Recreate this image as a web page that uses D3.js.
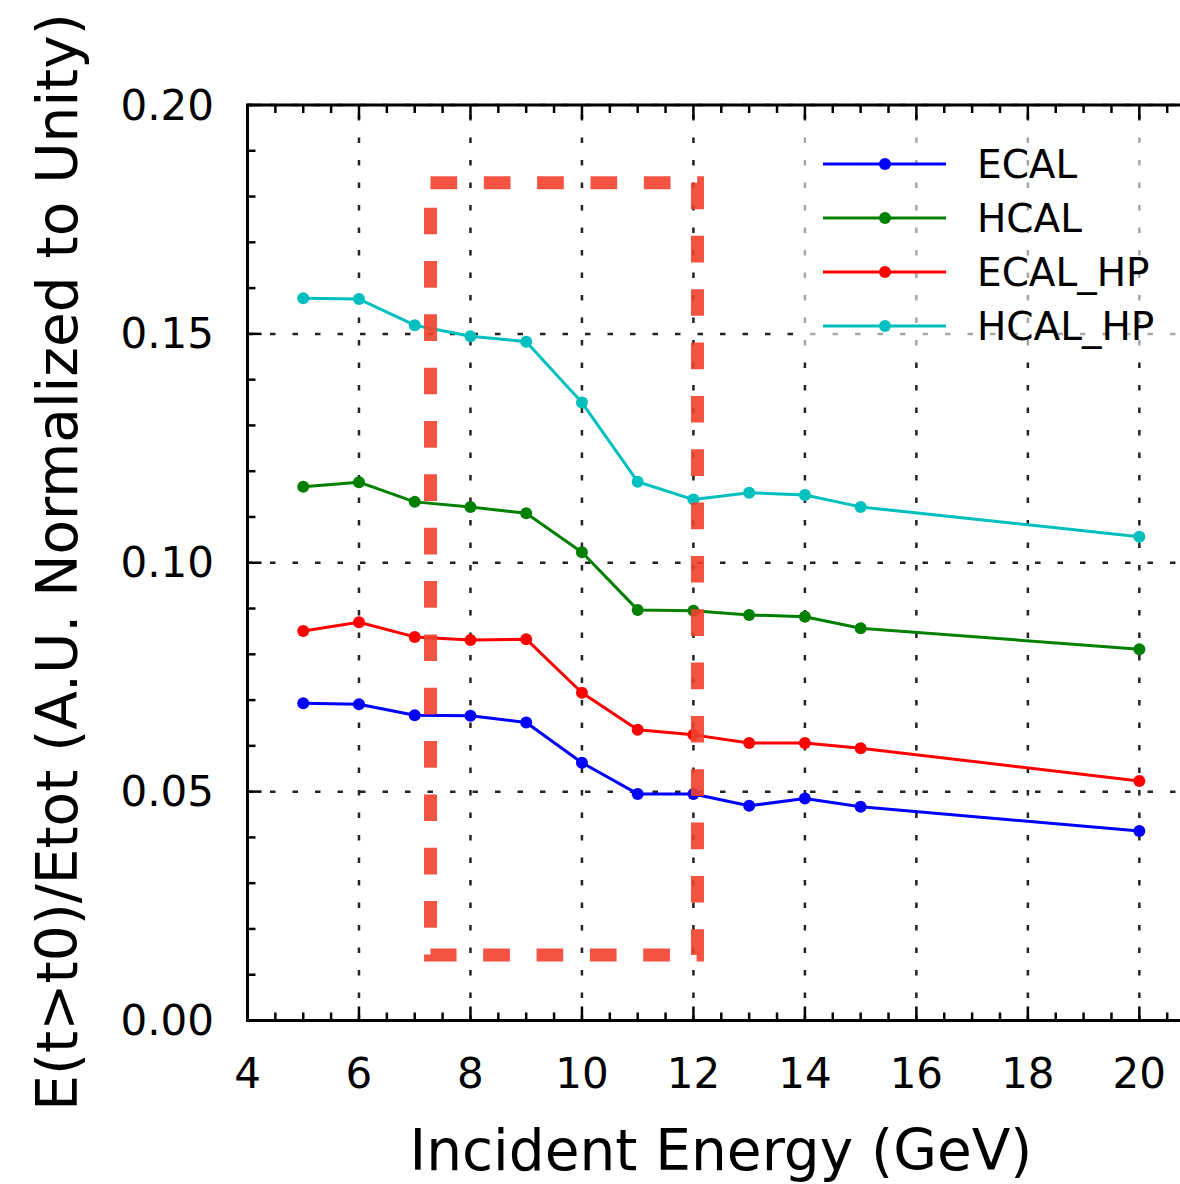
<!DOCTYPE html>
<html>
<head>
<meta charset="utf-8">
<script src="https://cdn.jsdelivr.net/npm/d3@7"></script>
<style>
  body { margin: 0; background: #fff; }
  svg { display: block; font-family: "DejaVu Sans", sans-serif; }
</style>
</head>
<body>
<script>
// data
const energies = [5, 6, 7, 8, 9, 10, 11, 12, 13, 14, 15, 20];
const ecal    = [0.0693, 0.0691, 0.0667, 0.0666, 0.0651, 0.0563, 0.0495, 0.0495, 0.0469, 0.0485, 0.0467, 0.0414];
const hcal    = [0.1166, 0.1176, 0.1133, 0.1122, 0.1108, 0.1023, 0.0897, 0.0895, 0.0886, 0.0882, 0.0857, 0.0811];
const ecalHP  = [0.0851, 0.0870, 0.0838, 0.0831, 0.0833, 0.0716, 0.0635, 0.0624, 0.0606, 0.0606, 0.0595, 0.0523];
const hcalHP  = [0.1578, 0.1576, 0.1519, 0.1495, 0.1483, 0.1350, 0.1177, 0.1138, 0.1153, 0.1148, 0.1122, 0.1057];
const seriesNames = ['ECAL', 'HCAL', 'ECAL_HP', 'HCAL_HP'];
const xTicks = [4, 6, 8, 10, 12, 14, 16, 18, 20];
const yTicks = [0.00, 0.05, 0.10, 0.15, 0.20];
// highlighted box (energy, fraction)
const boxX = [7.283, 12.073];
const boxY = [0.0143, 0.1830];

const series = [
  {name: seriesNames[0], values: ecal,   color: '#0000ff'},
  {name: seriesNames[1], values: hcal,   color: '#008000'},
  {name: seriesNames[2], values: ecalHP, color: '#ff0000'},
  {name: seriesNames[3], values: hcalHP, color: '#00bfbf'}
];

const width = 1180, height = 1184;
const x = d3.scaleLinear().domain([4, 21]).range([247.5, 247.5 + 17 * 55.74]);
const y = d3.scaleLinear().domain([0, 0.2]).range([1020.5, 105]);

const svg = d3.select('body').append('svg')
  .attr('width', width)
  .attr('height', height);

// grid
const grid = svg.append('g').attr('class', 'grid');
grid.selectAll('line.gx')
  .data(xTicks.slice(1))
  .enter().append('line')
  .attr('x1', d => x(d)).attr('x2', d => x(d))
  .attr('y1', y(0)).attr('y2', y(0.2))
  .attr('stroke', '#222').attr('stroke-width', 2.5)
  .attr('stroke-dasharray', '5.5,17');
grid.selectAll('line.gy')
  .data(yTicks.slice(1))
  .enter().append('line')
  .attr('x1', x(4)).attr('x2', width + 20)
  .attr('y1', d => y(d)).attr('y2', d => y(d))
  .attr('stroke', '#222').attr('stroke-width', 2.5)
  .attr('stroke-dasharray', '5.5,17');

// lines and markers
let line = d3.line()
  .x((d, i) => x(energies[i]))
  .y(d => y(d));

series.forEach(s => {
  svg.append('path')
    .datum(s.values)
    .attr('fill', 'none')
    .attr('stroke', s.color)
    .attr('stroke-width', 3)
    .attr('stroke-linejoin', 'round')
    .attr('d', line);
  svg.append('g').selectAll('circle')
    .data(s.values)
    .enter().append('circle')
    .attr('cx', (d, i) => x(energies[i]))
    .attr('cy', d => y(d))
    .attr('r', 6)
    .attr('fill', s.color);
});

// dashed box, drawn clockwise from top-left
const boxPath = d3.path();
boxPath.moveTo(x(boxX[0]), y(boxY[1]));
boxPath.lineTo(x(boxX[1]), y(boxY[1]));
boxPath.lineTo(x(boxX[1]), y(boxY[0]));
boxPath.lineTo(x(boxX[0]), y(boxY[0]));
boxPath.closePath();
svg.append('path')
  .attr('d', boxPath.toString())
  .attr('fill', 'none')
  .attr('stroke', '#f2402c')
  .attr('stroke-opacity', 0.9)
  .attr('stroke-width', 13)
  .attr('stroke-dasharray', '26.67,26.67');

// legend
const legend = svg.append('g');
legend.append('rect')
  .attr('x', 797).attr('y', 132)
  .attr('width', 420).attr('height', 222)
  .attr('fill', '#fff').attr('fill-opacity', 0.6);
series.forEach((s, i) => {
  const ly = 164 + i * 54;
  legend.append('line')
    .attr('x1', 823).attr('x2', 946)
    .attr('y1', ly).attr('y2', ly)
    .attr('stroke', s.color).attr('stroke-width', 3);
  legend.append('circle')
    .attr('cx', 885).attr('cy', ly).attr('r', 6)
    .attr('fill', s.color);
  legend.append('text')
    .attr('x', 977).attr('y', ly)
    .attr('dominant-baseline', 'central')
    .attr('font-size', 39)
    .text(s.name);
});

// axes: ticks inward, labels drawn separately
const xMinor = d3.range(4, 21.01, 0.5);
const yMinor = d3.range(0, 0.2001, 0.01);
const axes = svg.append('g').attr('stroke', '#000');
function isMajorX(d) { return Math.abs(d / 2 - Math.round(d / 2)) < 1e-6; }
function isMajorY(d) { return Math.abs(d / 0.05 - Math.round(d / 0.05)) < 1e-6; }

axes.selectAll('line.xb')
  .data(xMinor).enter().append('line')
  .attr('x1', d => x(d)).attr('x2', d => x(d))
  .attr('y1', y(0)).attr('y2', d => y(0) - (isMajorX(d) ? 14 : 8))
  .attr('stroke-width', 2.5);
axes.selectAll('line.xt')
  .data(xMinor).enter().append('line')
  .attr('x1', d => x(d)).attr('x2', d => x(d))
  .attr('y1', y(0.2)).attr('y2', d => y(0.2) + (isMajorX(d) ? 14 : 8))
  .attr('stroke-width', 2.5);
axes.selectAll('line.yl')
  .data(yMinor).enter().append('line')
  .attr('x1', x(4)).attr('x2', d => x(4) + (isMajorY(d) ? 14 : 8))
  .attr('y1', d => y(d)).attr('y2', d => y(d))
  .attr('stroke-width', 2.5);

// spines
axes.append('line')
  .attr('x1', x(4)).attr('x2', width + 10)
  .attr('y1', y(0)).attr('y2', y(0)).attr('stroke-width', 3);
axes.append('line')
  .attr('x1', x(4)).attr('x2', width + 10)
  .attr('y1', y(0.2)).attr('y2', y(0.2)).attr('stroke-width', 3);
axes.append('line')
  .attr('x1', x(4)).attr('x2', x(4))
  .attr('y1', y(0) + 1.5).attr('y2', y(0.2) - 1.5).attr('stroke-width', 3);

// tick labels
svg.append('g').selectAll('text')
  .data(xTicks).enter().append('text')
  .attr('x', d => x(d)).attr('y', 1088)
  .attr('text-anchor', 'middle')
  .attr('font-size', 42)
  .text(d => d);
svg.append('g').selectAll('text')
  .data(yTicks).enter().append('text')
  .attr('x', 214).attr('y', d => y(d))
  .attr('text-anchor', 'end')
  .attr('dominant-baseline', 'central')
  .attr('font-size', 42)
  .text(d => d3.format('.2f')(d));

// axis titles
svg.append('text')
  .attr('x', 721).attr('y', 1170)
  .attr('text-anchor', 'middle')
  .attr('font-size', 56.5)
  .text('Incident Energy (GeV)');
svg.append('text')
  .attr('transform', 'translate(77,562) rotate(-90)')
  .attr('text-anchor', 'middle')
  .attr('font-size', 56.5)
  .text('E(t>t0)/Etot (A.U. Normalized to Unity)');
</script>
</body>
</html>
